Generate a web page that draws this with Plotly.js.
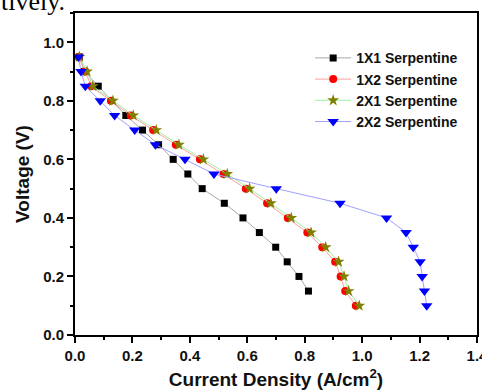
<!DOCTYPE html>
<html>
<head>
<meta charset="utf-8">
<script src="https://cdn.plot.ly/plotly-3.0.1.min.js"></script>
<style>html,body{margin:0;padding:0;background:#fff;}#chart{width:482px;height:390px;}</style>
</head>
<body>
<div id="chart"></div>
<script>
// Data
const names = ["1X1 Serpentine", "1X2 Serpentine", "2X1 Serpentine", "2X2 Serpentine"];

const x1x1 = [0.015,0.033,0.081,0.177,0.235,0.291,0.342,0.393,0.443,0.52,0.585,0.642,0.699,0.739,0.78,0.813];
const y1x1 = [0.95,0.90,0.85,0.75,0.70,0.65,0.60,0.55,0.50,0.45,0.40,0.35,0.30,0.25,0.20,0.15];

const x1x2 = [0.012,0.036,0.056,0.125,0.194,0.272,0.351,0.435,0.517,0.595,0.669,0.741,0.809,0.861,0.906,0.925,0.941,0.978];
const y1x2 = [0.95,0.90,0.85,0.80,0.75,0.70,0.65,0.60,0.55,0.50,0.45,0.40,0.35,0.30,0.25,0.20,0.15,0.10];

const x2x1 = [0.015,0.042,0.062,0.132,0.203,0.283,0.362,0.447,0.530,0.608,0.682,0.753,0.822,0.873,0.918,0.937,0.953,0.990];
const y2x1 = [0.95,0.90,0.85,0.80,0.75,0.70,0.65,0.60,0.55,0.50,0.45,0.40,0.35,0.30,0.25,0.20,0.15,0.10];

const x2x2 = [0.012,0.021,0.036,0.088,0.138,0.208,0.280,0.383,0.484,0.701,0.923,1.085,1.153,1.178,1.202,1.209,1.217,1.225];
const y2x2 = [0.95,0.90,0.85,0.80,0.75,0.70,0.65,0.60,0.55,0.50,0.45,0.40,0.35,0.30,0.25,0.20,0.15,0.10];

const xTitle = "Current Density (A/cm<sup>2</sup>)";
const yTitle = "Voltage (V)";
const topText = "tively.";

const font = "Arial, 'Liberation Sans', sans-serif";

const traces = [
  {x: x1x1, y: y1x1, name: names[0], mode: "lines+markers",
   line: {color: "#a8a8a8", width: 1},
   marker: {symbol: "square", size: 7, color: "#000000"}},
  {x: x1x2, y: y1x2, name: names[1], mode: "lines+markers",
   line: {color: "#ffa0a0", width: 1},
   marker: {symbol: "circle", size: 8, color: "#ff0000"}},
  {x: x2x1, y: y2x1, name: names[2], mode: "lines+markers",
   line: {color: "#a0f0a0", width: 1},
   marker: {symbol: "star", size: 9, color: "#808000"}},
  {x: x2x2, y: y2x2, name: names[3], mode: "lines+markers",
   line: {color: "#a0a0ff", width: 1},
   marker: {symbol: "triangle-down", size: 10, color: "#0000ff"}}
];

const axisCommon = {
  showline: true, linecolor: "#000", linewidth: 2, mirror: true,
  ticks: "outside", ticklen: 6, tickwidth: 2, tickcolor: "#000",
  showgrid: false, zeroline: false, ticklabeloverflow: "allow",
  tickfont: {family: font, size: 15, color: "#111", weight: "bold"},
  minor: {dtick: 0.1, ticks: "outside", ticklen: 3, tickwidth: 2, tickcolor: "#000", showgrid: false}
};

const layout = {
  width: 482, height: 390,
  margin: {l: 75, r: 5, t: 13, b: 55},
  paper_bgcolor: "#fff", plot_bgcolor: "#fff",
  showlegend: true,
  legend: {x: 0.585, y: 0.909, xanchor: "left", yanchor: "top",
    bgcolor: "rgba(0,0,0,0)", borderwidth: 0,
    font: {family: font, size: 14, color: "#111", weight: "bold"},
    tracegroupgap: 0, itemwidth: 36},
  xaxis: Object.assign({}, axisCommon, {
    range: [0, 1.4], dtick: 0.2, tick0: 0, tickformat: ".1f",
    title: {text: xTitle, font: {family: font, size: 19, color: "#111", weight: "bold"}, standoff: 10}
  }),
  yaxis: Object.assign({}, axisCommon, {
    range: [0, 1.1], dtick: 0.2, tick0: 0, tickformat: ".1f",
    title: {text: yTitle, font: {family: font, size: 19, color: "#111", weight: "bold"}, standoff: 8}
  }),
  annotations: [{
    text: topText, xref: "paper", yref: "paper", x: -0.19, y: 1.0,
    xanchor: "left", yanchor: "bottom", showarrow: false, yshift: -5,
    font: {family: "'Liberation Serif', 'Times New Roman', serif", size: 26, color: "#000"}
  }]
};

Plotly.newPlot("chart", traces, layout, {displayModeBar: false, staticPlot: true});
</script>
</body>
</html>
